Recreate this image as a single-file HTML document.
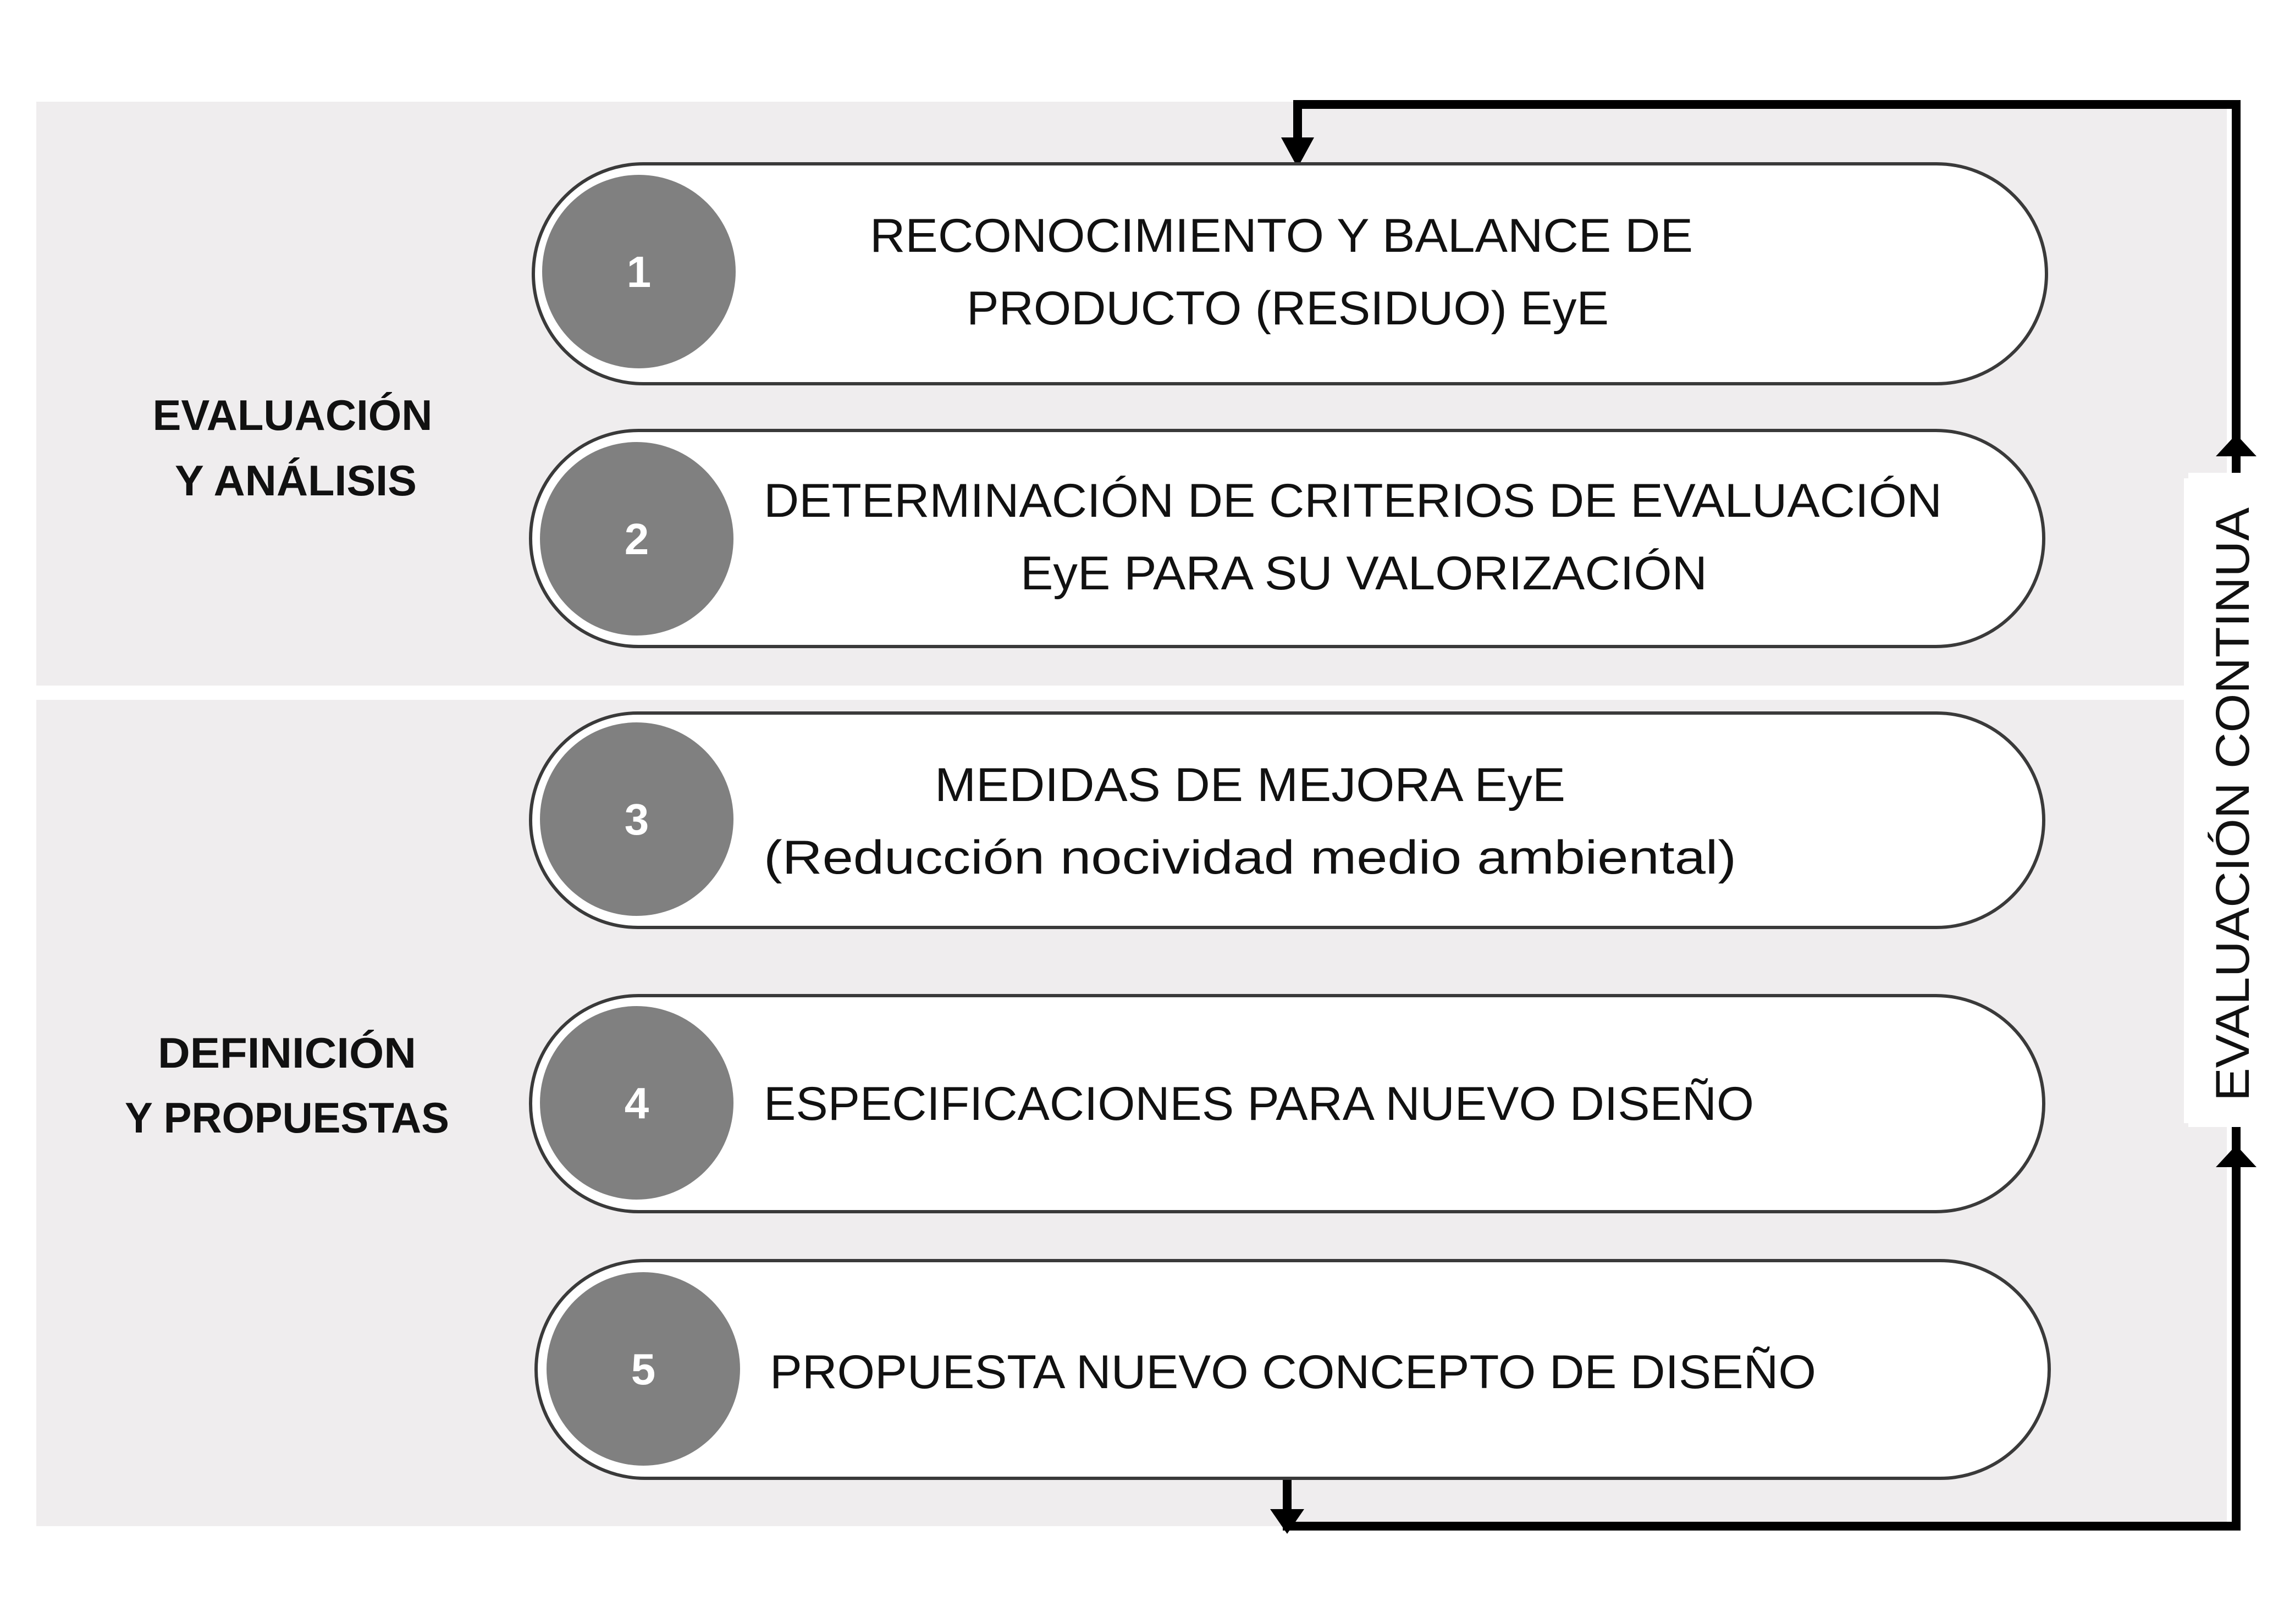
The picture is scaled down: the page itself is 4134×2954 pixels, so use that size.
<!DOCTYPE html>
<html><head><meta charset="utf-8"><style>
html,body{margin:0;padding:0;background:#fff;}
svg{display:block;}
text{font-family:"Liberation Sans",sans-serif;}
</style></head><body>
<svg width="4134" height="2954" viewBox="0 0 4134 2954" xmlns="http://www.w3.org/2000/svg">
<rect x="0" y="0" width="4134" height="2954" fill="#fff"/>
<rect x="66" y="185" width="3984" height="1062" fill="#efedee"/>
<rect x="66" y="1273" width="3984" height="1503" fill="#efedee"/>
<rect x="3972" y="870" width="162" height="1173" fill="#fff"/>

<!-- connectors -->
<g stroke="#000" stroke-width="16" fill="none">
<polyline points="2360,250 2360,190 4067,190 4067,2776 2341,2776 2341,2689"/>
</g>
<g fill="#000">
<polygon points="2330,250 2390,250 2360,305"/>
<polygon points="4030,830 4104,830 4067,790"/>
<polygon points="4030,2123 4104,2123 4067,2083"/>
<polygon points="2310,2745 2372,2745 2341,2790"/>
</g>
<rect x="3980" y="860" width="150" height="1190" fill="#fff"/>

<!-- pills -->
<g fill="#fff" stroke="#3a3a3a" stroke-width="6">
<rect x="970" y="298" width="2752" height="400" rx="200"/>
<rect x="965" y="783" width="2752" height="393" rx="196"/>
<rect x="965" y="1297" width="2752" height="390" rx="195"/>
<rect x="965" y="1811" width="2752" height="393" rx="196"/>
<rect x="975" y="2293" width="2752" height="396" rx="198"/>
</g>
<g fill="#808080">
<circle cx="1162" cy="494" r="176"/>
<circle cx="1158" cy="980" r="176"/>
<circle cx="1158" cy="1490" r="176"/>
<circle cx="1158" cy="2006" r="176"/>
<circle cx="1170" cy="2490" r="176"/>
</g>
<g fill="#fff" font-size="80" font-weight="bold" text-anchor="middle">
<text x="1162" y="522">1</text>
<text x="1158" y="1008">2</text>
<text x="1158" y="1518">3</text>
<text x="1158" y="2034">4</text>
<text x="1170" y="2518">5</text>
</g>

<g fill="#111" font-size="86">
<text x="1582" y="458" textLength="1497" lengthAdjust="spacingAndGlyphs">RECONOCIMIENTO Y BALANCE DE</text>
<text x="1758" y="590" textLength="1168" lengthAdjust="spacingAndGlyphs">PRODUCTO (RESIDUO) EyE</text>
<text x="1389" y="940" textLength="2143" lengthAdjust="spacingAndGlyphs">DETERMINACIÓN DE CRITERIOS DE EVALUACIÓN</text>
<text x="1856" y="1072" textLength="1249" lengthAdjust="spacingAndGlyphs">EyE PARA SU VALORIZACIÓN</text>
<text x="1700" y="1457" textLength="1147" lengthAdjust="spacingAndGlyphs">MEDIDAS DE MEJORA EyE</text>
<text x="1389" y="1589" textLength="1769" lengthAdjust="spacingAndGlyphs">(Reducción nocividad medio ambiental)</text>
<text x="1389" y="2037" textLength="1801" lengthAdjust="spacingAndGlyphs">ESPECIFICACIONES PARA NUEVO DISEÑO</text>
<text x="1400" y="2525" textLength="1903" lengthAdjust="spacingAndGlyphs">PROPUESTA NUEVO CONCEPTO DE DISEÑO</text>
</g>

<g fill="#111" font-size="78" font-weight="bold" text-anchor="middle">
<text x="532" y="782" textLength="509" lengthAdjust="spacingAndGlyphs">EVALUACIÓN</text>
<text x="538" y="901" textLength="440" lengthAdjust="spacingAndGlyphs">Y ANÁLISIS</text>
<text x="522" y="1942" textLength="470" lengthAdjust="spacingAndGlyphs">DEFINICIÓN</text>
<text x="522" y="2060" textLength="590" lengthAdjust="spacingAndGlyphs">Y PROPUESTAS</text>
</g>

<text transform="translate(4090,2003) rotate(-90)" fill="#111" font-size="86" textLength="1080" lengthAdjust="spacingAndGlyphs">EVALUACIÓN CONTINUA</text>
</svg>
</body></html>
